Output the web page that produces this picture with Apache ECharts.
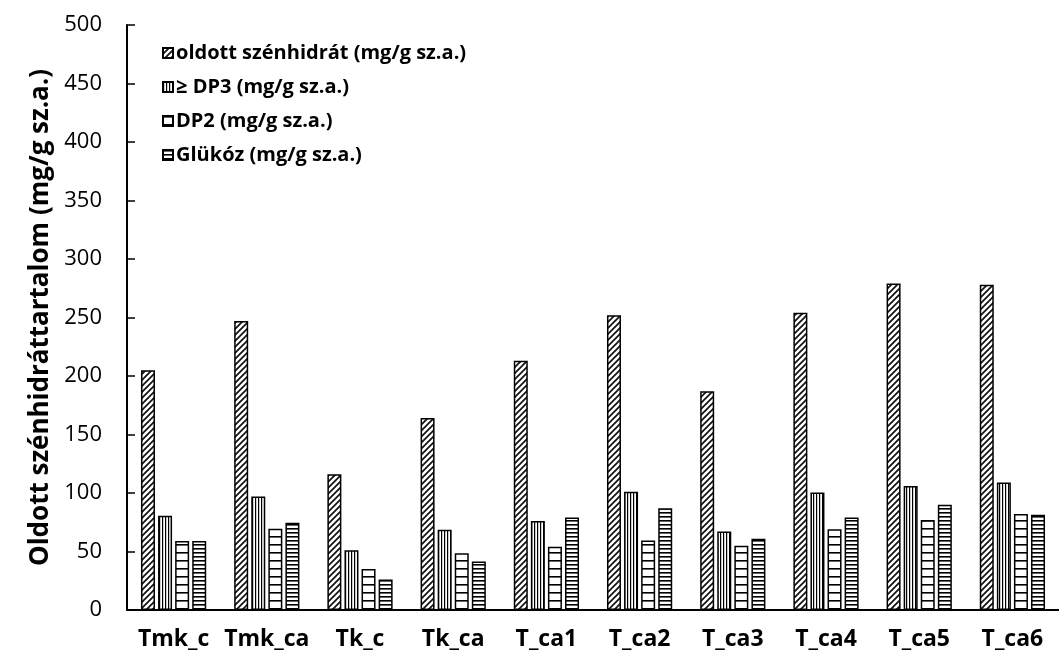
<!DOCTYPE html>
<html>
<head>
<meta charset="utf-8">
<script src="https://cdn.jsdelivr.net/npm/echarts@6/dist/echarts.min.js"></script>
<style>html,body{margin:0;padding:0;background:#fff}#c{width:1059px;height:656px}</style>
</head>
<body>
<div id="c"></div>
<script>
const categories = ['Tmk_c','Tmk_ca','Tk_c','Tk_ca','T_ca1','T_ca2','T_ca3','T_ca4','T_ca5','T_ca6'];
const seriesNames = ['oldott szénhidrát (mg/g sz.a.)','≥ DP3 (mg/g sz.a.)','DP2 (mg/g sz.a.)','Glükóz (mg/g sz.a.)'];
const oldott = [205, 247, 116, 164, 213, 252, 187, 254, 279, 278];
const dp3 = [80.5, 97, 51, 68.5, 76, 101, 67, 100.5, 106, 109];
const dp2 = [59, 69.5, 35, 48.5, 54, 59.5, 55, 69, 77, 82];
const glukoz = [59, 74.5, 26, 41.5, 79, 87, 61, 79, 90, 81.5];
const yTicks = {min: 0, max: 500, interval: 50};

function pattern(kind){
  const s = kind === 'diag' ? 6 : kind === 'vert' ? 3 : kind === 'hwide' ? 8 : 4;
  const c = document.createElement('canvas');
  c.width = s; c.height = s;
  const g = c.getContext('2d');
  g.fillStyle = '#fff'; g.fillRect(0,0,s,s);
  g.fillStyle = '#000'; g.strokeStyle = '#111';
  if (kind === 'diag') {
    g.lineWidth = 1.7;
    g.beginPath();
    g.moveTo(-1, s+1); g.lineTo(s+1, -1);
    g.moveTo(-1, 1); g.lineTo(1, -1);
    g.moveTo(s-1, s+1); g.lineTo(s+1, s-1);
    g.stroke();
  } else if (kind === 'vert') {
    g.fillRect(0,0,1.2,s);
  } else {
    g.fillRect(0,0,s,1.6);
  }
  return {image: c, repeat: 'repeat'};
}

const kinds = ['diag','vert','hwide','hdense'];
const datas = [oldott, dp3, dp2, glukoz];
const font = '"Open Sans", sans-serif';

const chart = echarts.init(document.getElementById('c'), null, {renderer: 'canvas'});
chart.setOption({
  animation: false,
  backgroundColor: '#fff',
  grid: {left: 127, right: -10, top: 25, bottom: 46, containLabel: false},
  legend: {
    orient: 'vertical', left: 157, top: 38,
    itemWidth: 10, itemHeight: 10, itemGap: 14,
    textStyle: {fontFamily: font, fontWeight: 'bold', fontSize: 20, color: '#000', padding: [0,0,0,-2]},
    data: seriesNames.map(n => ({name: n, icon: 'rect'}))
  },
  xAxis: {
    type: 'category', data: categories,
    axisLine: {lineStyle: {color: '#000', width: 2}},
    axisTick: {show: false},
    axisLabel: {fontFamily: font, fontWeight: 'bold', fontSize: 23, color: '#000', margin: 18, interval: 0}
  },
  yAxis: {
    type: 'value', min: yTicks.min, max: yTicks.max, interval: yTicks.interval,
    name: 'Oldott szénhidráttartalom (mg/g sz.a.)',
    nameLocation: 'middle', nameGap: 72,
    nameTextStyle: {fontFamily: font, fontWeight: 'bold', fontSize: 26, color: '#000'},
    axisLine: {show: true, lineStyle: {color: '#000', width: 2}},
    axisTick: {show: true, inside: true, length: 8, lineStyle: {color: '#000', width: 1.5}},
    splitLine: {show: false},
    axisLabel: {fontFamily: font, fontSize: 22, color: '#000', margin: 25}
  },
  series: seriesNames.map((n, i) => ({
    name: n, type: 'bar', data: datas[i],
    barWidth: 14, barGap: '22%',
    itemStyle: {color: pattern(kinds[i]), borderColor: '#000', borderWidth: 1.5}
  }))
});
</script>
</body>
</html>
